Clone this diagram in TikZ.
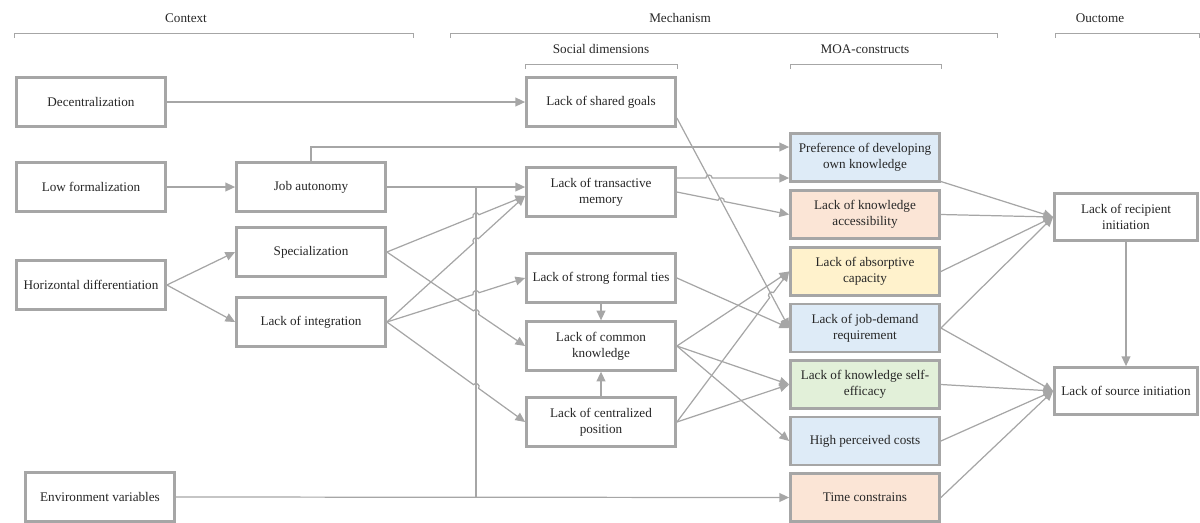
\documentclass[tikz,border=0pt]{standalone}
\usepackage{fontspec}
\setmainfont{Liberation Serif}
\usetikzlibrary{arrows.meta,positioning,calc}
\definecolor{linegray}{HTML}{A6A6A6}
\definecolor{fillblue}{HTML}{DEEBF7}
\definecolor{fillpeach}{HTML}{FBE5D6}
\definecolor{fillyellow}{HTML}{FFF2CC}
\definecolor{fillgreen}{HTML}{E2F0D9}
\definecolor{textgray}{HTML}{262626}

% arrow from #1 to #2 that hops over the line #3--#4
\newcommand{\hopconn}[4]{%
  \coordinate (hx) at (intersection of #1--#2 and #3--#4);
  \draw[conn] (#1) -- ($(hx)!1.8pt!(#1)$)
      to[bend left=90, looseness=1.6] ($(hx)!1.8pt!(#2)$) -- (#2);}

\begin{document}
\begin{tikzpicture}[x=0.02cm, y=-0.02cm,
    every node/.style={font=\fontsize{7.5}{9}\selectfont, text=textgray},
    box/.style={draw=linegray, line width=1.6pt, fill=white, align=center,
                inner sep=1pt, minimum width=2.98cm, minimum height=0.97cm},
    moa/.style={box, minimum height=0.96cm},
    outbox/.style={box, minimum width=2.86cm, minimum height=0.94cm},
    conn/.style={draw=linegray, line width=0.7pt, -{Triangle[length=5.5pt,width=5pt]}},
    link/.style={draw=linegray, line width=0.7pt},
    bracket/.style={draw=linegray, line width=0.5pt}]
\useasboundingbox (0,0) rectangle (1200,522);

% headers
\node (hctx) at (186,18) {Context};
\node (hmech) at (680,18) {Mechanism};
\node (hout) at (1100,18) {Ouctome};
\node (hsoc) at (601,49) {Social dimensions};
\node (hmoa) at (865,49) {MOA-constructs};
\foreach \a/\b/\y in {14/413/33, 450/997/33, 1055/1199/33, 525/677/64, 790/941/64}
    \draw[bracket] (\a,\y+5) -- (\a,\y) -- (\b,\y) -- (\b,\y+5);

% context
\node[box] (dec) at (91,102) {Decentralization};
\node[box] (lowf) at (91,187) {Low formalization};
\node[box] (hdiff) at (91,285) {Horizontal differentiation};
\node[box] (env) at (100,497) {Environment variables};
\node[box] (job) at (311,187) {Job autonomy};
\node[box] (spec) at (311,252) {Specialization};
\node[box] (integ) at (311,322) {Lack of integration};

% social dimensions
\node[box] (goals) at (601,102) {Lack of shared goals};
\node[box] (trans) at (601,192) {Lack of transactive\\memory};
\node[box] (ties) at (601,278) {Lack of strong formal ties};
\node[box] (common) at (601,346) {Lack of common\\knowledge};
\node[box] (central) at (601,422) {Lack of centralized\\position};

% MOA-constructs
\node[moa, fill=fillblue] (pref) at (865,157.5) {Preference of developing\\own knowledge};
\node[moa, fill=fillpeach] (access) at (865,214.5) {Lack of knowledge\\accessibility};
\node[moa, fill=fillyellow] (absorb) at (865,271.5) {Lack of absorptive\\capacity};
\node[moa, fill=fillblue] (jobdem) at (865,328) {Lack of job-demand\\requirement};
\node[moa, fill=fillgreen] (selfeff) at (865,384.5) {Lack of knowledge self-\\efficacy};
\node[moa, fill=fillblue] (costs) at (865,441) {High perceived costs};
\node[moa, fill=fillpeach] (time) at (865,497.5) {Time constrains};

% outcome
\node[outbox] (recip) at (1126,217) {Lack of recipient\\initiation};
\node[outbox] (source) at (1126,391) {Lack of source initiation};

% helper points
\coordinate (jdown) at (476,187);
\coordinate (jbot) at (jdown |- env.east);
\coordinate (transin) at ($(trans.west)+(0,4)$);
\coordinate (goalsout) at ($(goals.east)+(0,16)$);
\coordinate (transup) at ($(trans.east)+(0,-14)$);
\coordinate (prefin) at (transup -| pref.west);

% context links
\draw[conn] (dec) -- (goals);
\draw[conn] (lowf) -- (job);
\draw[conn] (hdiff.east) -- (spec.west);
\draw[conn] (hdiff.east) -- (integ.west);
\draw[conn] (job.east) -- (job.east -| trans.west);
\draw[conn] (job.north) |- ($(pref.west)+(0,-10.5)$);
\draw[link] (jdown) -- (jbot);
\draw[conn] (env.east) -- (time.west);
\hopconn{spec.east}{transin}{jdown}{jbot}
\hopconn{spec.east}{common.west}{jdown}{jbot}
\hopconn{integ.east}{transin}{jdown}{jbot}
\hopconn{integ.east}{ties.west}{jdown}{jbot}
\hopconn{integ.east}{central.west}{jdown}{jbot}

% social dimension links
\draw[conn] (ties) -- (common);
\draw[conn] (central) -- (common);
\draw[conn] (goalsout) -- (jobdem.west);
\hopconn{transup}{prefin}{goalsout}{jobdem.west}
\hopconn{trans.east}{access.west}{goalsout}{jobdem.west}
\draw[conn] (ties.east) -- (jobdem.west);
\draw[conn] (common.east) -- (absorb.west);
\hopconn{central.east}{absorb.west}{goalsout}{jobdem.west}
\draw[conn] (common.east) -- (selfeff.west);
\draw[conn] (central.east) -- (selfeff.west);
\draw[conn] (common.east) -- (costs.west);

% MOA links
\draw[conn] ($(pref.east)+(0,24)$) -- (recip.west);
\draw[conn] (access.east) -- (recip.west);
\draw[conn] (absorb.east) -- (recip.west);
\draw[conn] (jobdem.east) -- (recip.west);
\draw[conn] (jobdem.east) -- (source.west);
\draw[conn] (selfeff.east) -- (source.west);
\draw[conn] (costs.east) -- (source.west);
\draw[conn] (time.east) -- (source.west);
\draw[conn] (recip) -- (source);
\end{tikzpicture}
\end{document}
